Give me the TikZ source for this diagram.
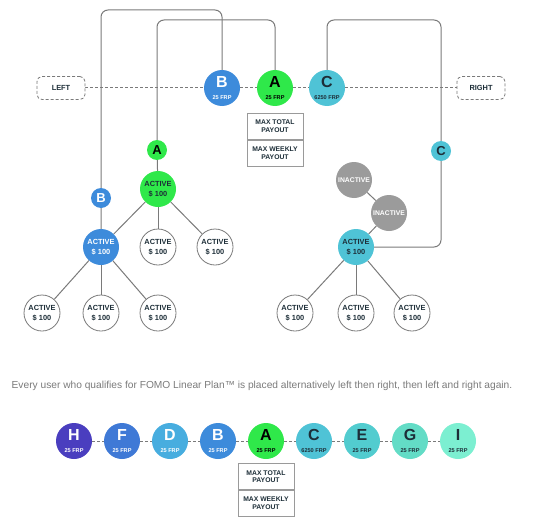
\documentclass[tikz,border=0pt]{standalone}
\usepackage{fontspec}
\setmainfont{Liberation Sans}
\usetikzlibrary{positioning,backgrounds}

\definecolor{linegray}{HTML}{7A7A7A}
\definecolor{boxgray}{HTML}{9A9A9A}
\definecolor{inkdark}{HTML}{1D2E38}
\definecolor{colA}{HTML}{2FE84A}
\definecolor{colB}{HTML}{3D8BDB}
\definecolor{colC}{HTML}{4FC3D6}
\definecolor{colD}{HTML}{47ADDF}
\definecolor{colE}{HTML}{52CCCF}
\definecolor{colF}{HTML}{3F79D6}
\definecolor{colG}{HTML}{63DCC6}
\definecolor{colH}{HTML}{4A3EBF}
\definecolor{colI}{HTML}{7CEFD1}
\definecolor{colOff}{HTML}{9B9B9B}

\newcommand\coinlbl[2]{{\fontsize{16}{13.5}\selectfont #1}\\{\fontsize{5.6}{6.5}\selectfont #2}}

\tikzset{
  coin/.style={circle,minimum size=36pt,inner sep=0pt,align=center,font=\bfseries},
  dot/.style={circle,minimum size=20pt,inner sep=0pt,font=\bfseries\fontsize{13}{13}\selectfont},
  member/.style={circle,minimum size=36pt,inner sep=0pt,align=center,font=\bfseries\fontsize{7.4}{9.6}\selectfont},
  blank/.style={member,draw=linegray,fill=white,line width=0.8pt,text=inkdark},
  wire/.style={draw=linegray,line width=1pt},
  dashes/.style={wire,dash pattern=on 3pt off 2pt},
  side/.style={draw=linegray,fill=white,dash pattern=on 3pt off 2pt,line width=0.8pt,rounded corners=5pt,minimum width=48pt,minimum height=23pt,font=\bfseries\fontsize{7.4}{7.4}\selectfont,text=inkdark},
  capbox/.style={draw=boxgray,fill=white,line width=0.8pt,minimum width=56pt,minimum height=26pt,align=center,inner sep=1pt,font=\bfseries\fontsize{6.8}{7.8}\selectfont,text=inkdark}
}

\begin{document}
\begin{tikzpicture}[x=1pt,y=-1pt]
\useasboundingbox (0,0) rectangle (534,516);

% top line
\node[side] (leftBox) at (61,88) {LEFT};
\node[side] (rightBox) at (481,88) {RIGHT};
\node[coin,fill=colB,text=white] (topB) at (222,88) {\coinlbl{B}{25 FRP}};
\node[coin,fill=colA,text=black] (topA) at (275,88) {\coinlbl{A}{25 FRP}};
\node[coin,fill=colC,text=inkdark] (topC) at (327,88) {\coinlbl{C}{6250 FRP}};
\node[capbox,anchor=north] (maxT) at (275,113) {MAX TOTAL\\PAYOUT};
\node[capbox,anchor=north] (maxW) at (maxT.south) {MAX WEEKLY\\PAYOUT};

% left tree
\node[dot,fill=colA,text=black] (dotA) at (157,150) {A};
\node[member,fill=colA,text=inkdark] (actA) at (158,189) {ACTIVE\\\$ 100};
\node[dot,fill=colB,text=white] (dotB) at (101,198) {B};
\node[member,fill=colB,text=white] (actB) at (101,247) {ACTIVE\\\$ 100};
\node[blank] (actA2) at (158,247) {ACTIVE\\\$ 100};
\node[blank] (actA3) at (215,247) {ACTIVE\\\$ 100};
\node[blank] (actB1) at (42,313) {ACTIVE\\\$ 100};
\node[blank] (actB2) at (101,313) {ACTIVE\\\$ 100};
\node[blank] (actB3) at (158,313) {ACTIVE\\\$ 100};

% right tree
\node[dot,fill=colC,text=inkdark] (dotC) at (441,151) {C};
\node[member,fill=colOff,text=white,font=\bfseries\fontsize{6.8}{7}\selectfont] (off1) at (354,180) {INACTIVE};
\node[member,fill=colOff,text=white,font=\bfseries\fontsize{6.8}{7}\selectfont] (off2) at (389,213) {INACTIVE};
\node[member,fill=colC,text=inkdark] (actC) at (356,247) {ACTIVE\\\$ 100};
\node[blank] (actC1) at (295,313) {ACTIVE\\\$ 100};
\node[blank] (actC2) at (356,313) {ACTIVE\\\$ 100};
\node[blank] (actC3) at (412,313) {ACTIVE\\\$ 100};

\coordinate (bendB1) at (101,10);
\coordinate (bendB2) at (222,10);
\coordinate (bendA1) at (157,20);
\coordinate (bendA2) at (275,20);
\coordinate (bendC1) at (327,20);
\coordinate (bendC2) at (441,20);
\coordinate (bendC3) at (441,247);

% caption
\node[text=linegray,font=\fontsize{10.2}{12}\selectfont] (caption) at (262,386)
  {Every user who qualifies for FOMO Linear Plan™ is placed alternatively left then right, then left and right again.};

% bottom line
\node[coin,fill=colH,text=white] (rowH) at (74,441) {\coinlbl{H}{25 FRP}};
\node[coin,fill=colF,text=white,right=11.6pt of rowH] (rowF) {\coinlbl{F}{25 FRP}};
\node[coin,fill=colD,text=white,right=11.6pt of rowF] (rowD) {\coinlbl{D}{25 FRP}};
\node[coin,fill=colB,text=white,right=11.6pt of rowD] (rowB) {\coinlbl{B}{25 FRP}};
\node[coin,fill=colA,text=black,right=11.6pt of rowB] (rowA) {\coinlbl{A}{25 FRP}};
\node[coin,fill=colC,text=inkdark,right=11.6pt of rowA] (rowC) {\coinlbl{C}{6250 FRP}};
\node[coin,fill=colE,text=inkdark,right=11.6pt of rowC] (rowE) {\coinlbl{E}{25 FRP}};
\node[coin,fill=colG,text=inkdark,right=11.6pt of rowE] (rowG) {\coinlbl{G}{25 FRP}};
\node[coin,fill=colI,text=inkdark,right=11.6pt of rowG] (rowI) {\coinlbl{I}{25 FRP}};
\node[capbox,anchor=north] (rowMaxT) at ([yshift=-4pt]rowA.south) {MAX TOTAL\\PAYOUT};
\node[capbox,anchor=north] (rowMaxW) at (rowMaxT.south) {MAX WEEKLY\\PAYOUT};

\begin{pgfonlayer}{background}
\draw[dashes] (leftBox) -- (topB) -- (topA) -- (topC) -- (rightBox);
\draw[wire,rounded corners=7pt] (actB) -- (dotB.center) -- (bendB1) -- (bendB2) -- (topB);
\draw[wire,rounded corners=7pt] (actA) -- (dotA.center) -- (bendA1) -- (bendA2) -- (topA);
\draw[wire,rounded corners=7pt] (topC) -- (bendC1) -- (bendC2) -- (bendC3) -- (actC);
\draw[wire] (actA) -- (actB);
\draw[wire] (actA) -- (actA2);
\draw[wire] (actA) -- (actA3);
\draw[wire] (actB) -- (actB1);
\draw[wire] (actB) -- (actB2);
\draw[wire] (actB) -- (actB3);
\draw[wire] (off1) -- (off2) -- (actC);
\draw[wire] (actC) -- (actC1);
\draw[wire] (actC) -- (actC2);
\draw[wire] (actC) -- (actC3);
\draw[dashes] (rowH) -- (rowF) -- (rowD) -- (rowB) -- (rowA) -- (rowC) -- (rowE) -- (rowG) -- (rowI);
\end{pgfonlayer}
\end{tikzpicture}
\end{document}
